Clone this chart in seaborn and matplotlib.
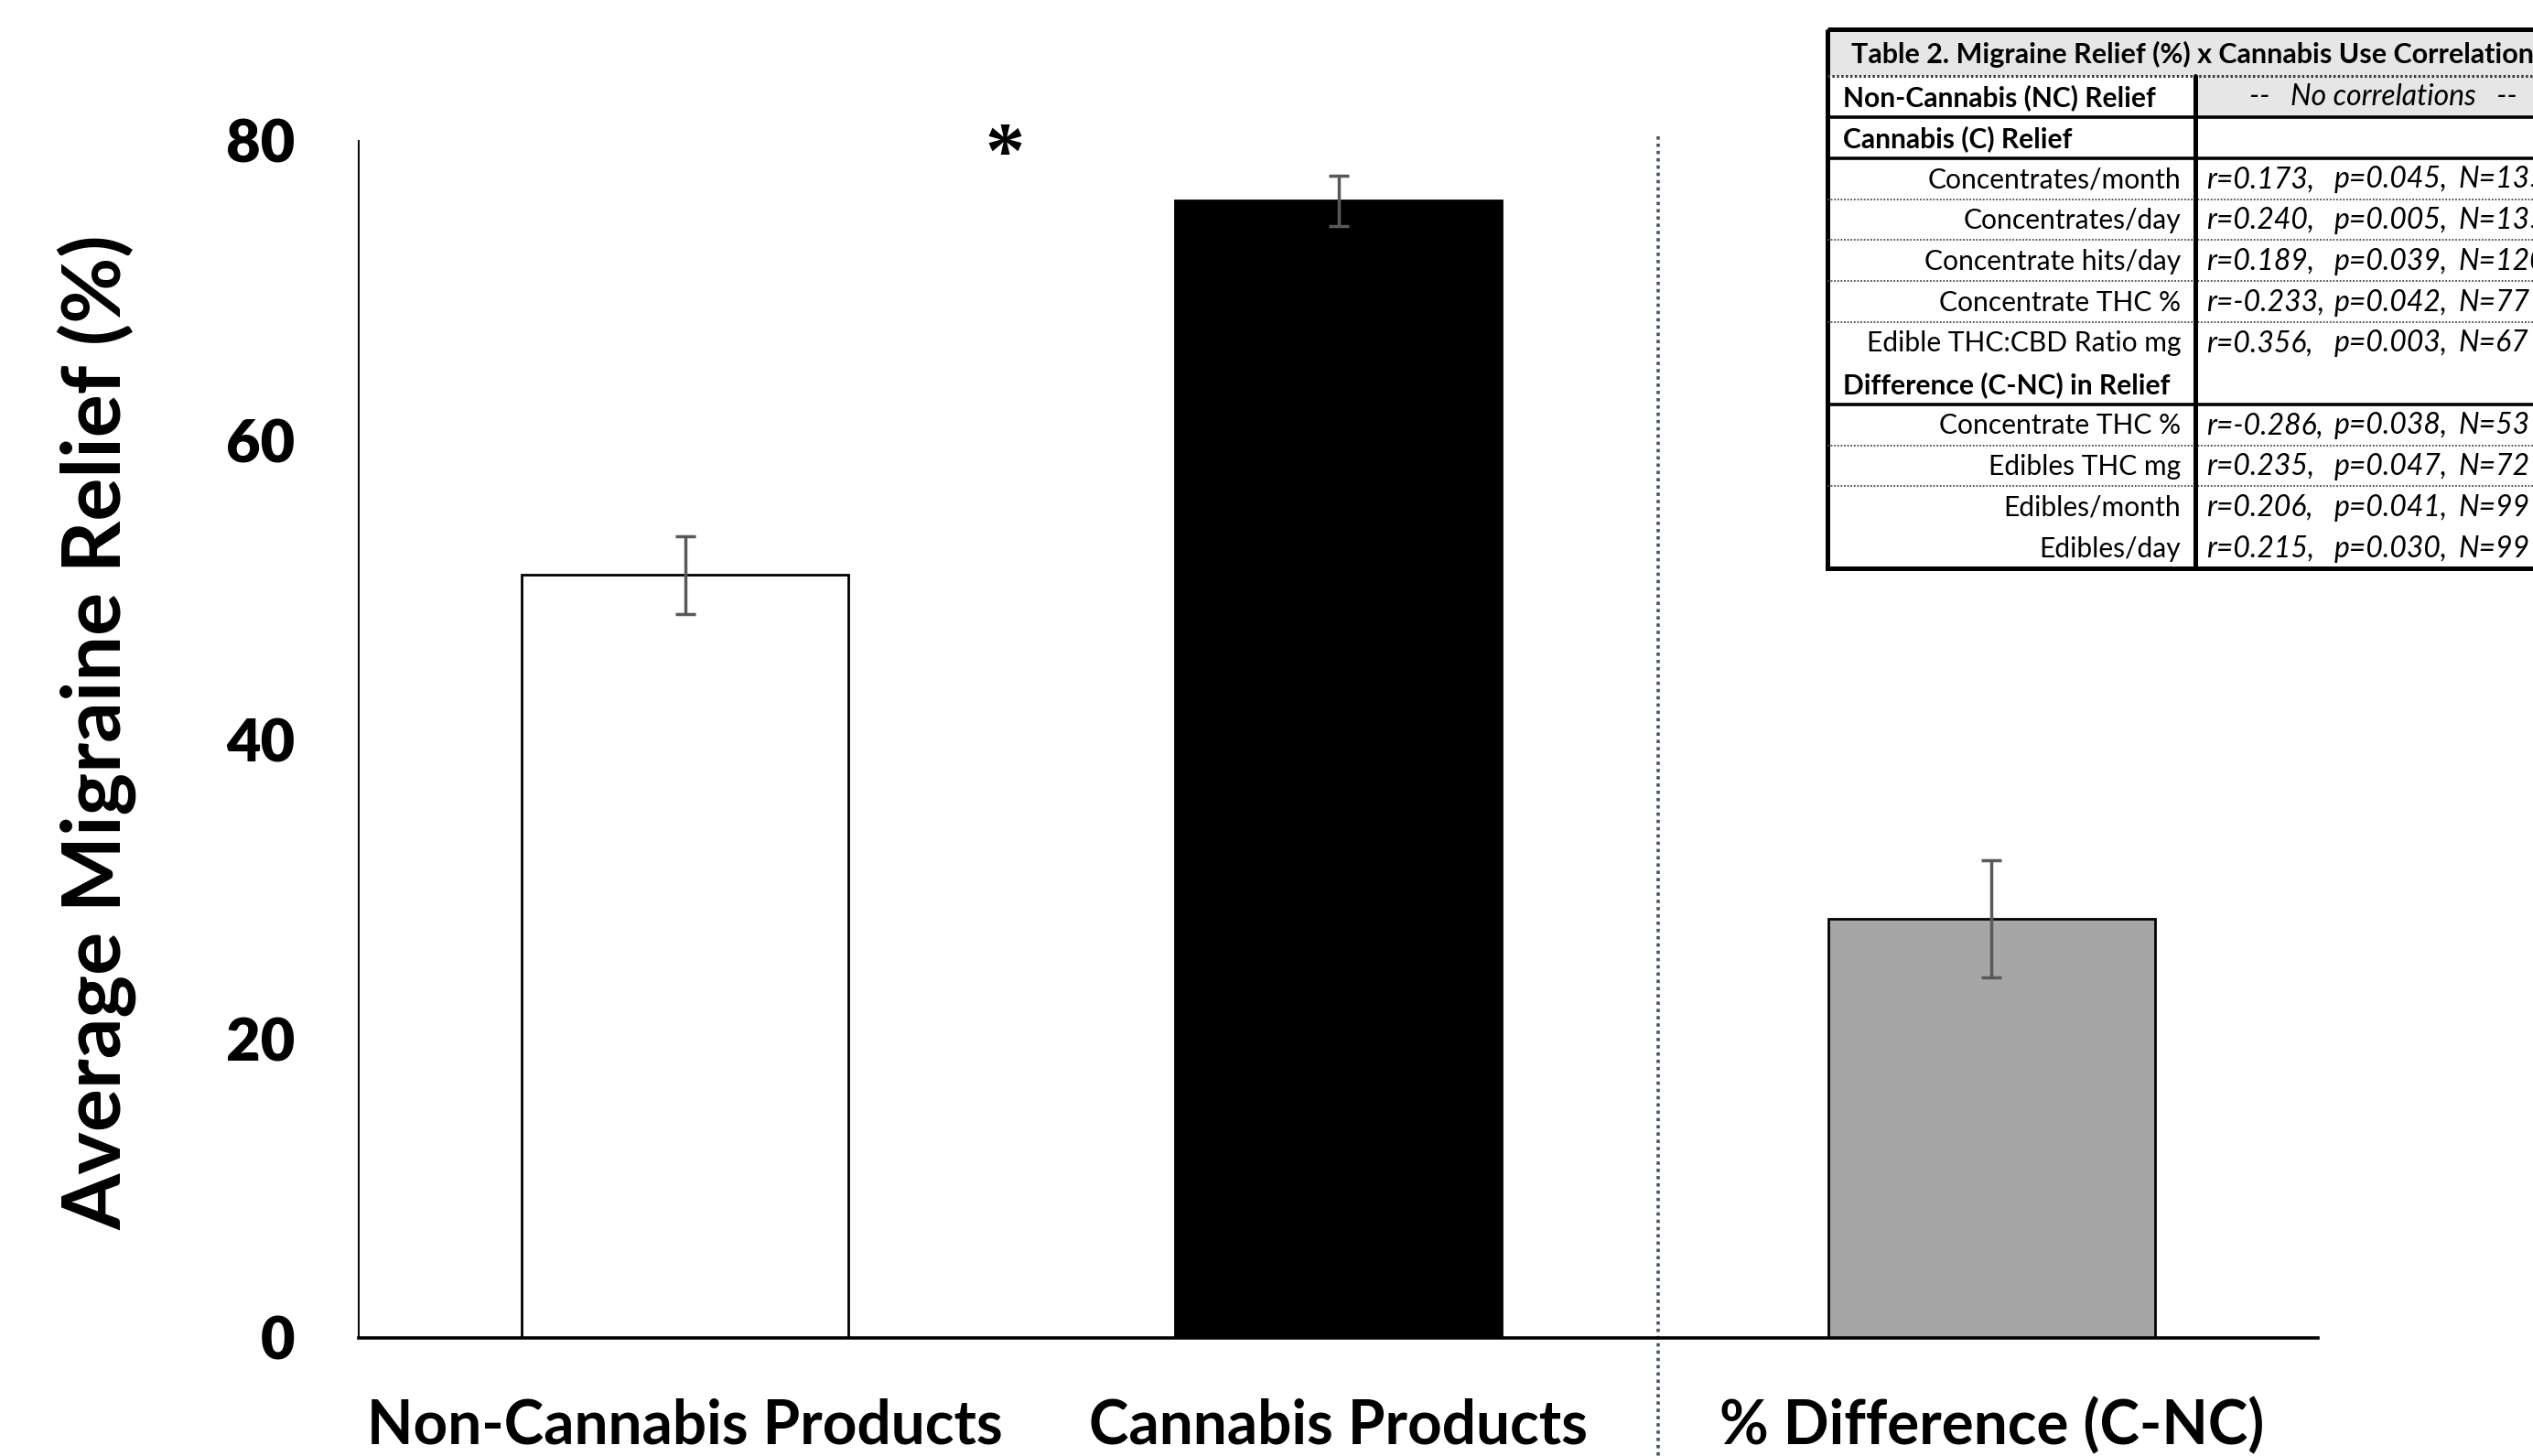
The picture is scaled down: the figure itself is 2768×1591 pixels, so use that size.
import matplotlib
matplotlib.use("Agg")
import matplotlib.pyplot as plt
from matplotlib.patches import Rectangle
import seaborn as sns
import pandas as pd

# ---- chart data ----
categories = ["Non-Cannabis Products", "Cannabis Products", "% Difference (C-NC)"]
relief_mean = [51.0, 76.0, 28.0]
relief_err = [2.6, 1.7, 3.9]
bar_colors = ["#ffffff", "#000000", "#a6a6a6"]
y_ticks = [0, 20, 40, 60, 80]
y_label = "Average Migraine Relief (%)"

# ---- correlation table data ----
table_title = "Table 2. Migraine Relief (%) x Cannabis Use Correlations"
row_labels = [
    "Non-Cannabis (NC) Relief",
    "Cannabis (C) Relief",
    "Concentrates/month",
    "Concentrates/day",
    "Concentrate hits/day",
    "Concentrate THC %",
    "Edible THC:CBD Ratio mg",
    "Difference (C-NC) in Relief",
    "Concentrate THC %",
    "Edibles THC mg",
    "Edibles/month",
    "Edibles/day",
]
row_r = ["", "", "0.173", "0.240", "0.189", "-0.233", "0.356", "", "-0.286", "0.235", "0.206", "0.215"]
row_p = ["", "", "0.045", "0.005", "0.039", "0.042", "0.003", "", "0.038", "0.047", "0.041", "0.030"]
row_n = ["", "", "135", "135", "120", "77", "67", "", "53", "72", "99", "99"]
no_corr_text = "--   No correlations   --"
row_is_header = [True, True, False, False, False, False, False, True, False, False, False, False]
row_rule = ["solid", "solid", "dotted", "dotted", "dotted", "dotted", "none",
            "solid", "dotted", "dotted", "none", "none"]

sns.set_theme(style="white")
plt.rcParams["font.family"] = ["Lato", "DejaVu Sans"]
plt.rcParams["text.color"] = "black"
plt.rcParams["xtick.color"] = "black"
plt.rcParams["ytick.color"] = "black"

W, H = 2768, 1591
fig = plt.figure(figsize=(W / 100, H / 100), dpi=100)
renderer = fig.canvas.get_renderer()


def rect_px(x0, y0, x1, y1):
    return [x0 / W, 1 - y1 / H, (x1 - x0) / W, (y1 - y0) / H]


def fitted_size(s, target_px, **props):
    t = fig.text(0, 0, s, fontsize=20, **props)
    w = t.get_window_extent(renderer).width
    t.remove()
    return 20 * target_px / w


# ---- bar chart ----
ax = fig.add_axes(rect_px(392, 154, 2533, 1462))
df = pd.DataFrame({"category": categories, "relief": relief_mean})
sns.barplot(data=df, x="category", y="relief", hue="category", palette=bar_colors,
            legend=False, width=0.5, edgecolor="black", linewidth=2,
            saturation=1, ax=ax, errorbar=None)
ax.errorbar(range(len(categories)), relief_mean, yerr=relief_err, fmt="none",
            ecolor="#595959", elinewidth=2.5, capsize=8, capthick=2.5, zorder=5)

ax.set_xlim(-0.5, 2.5)
ax.set_ylim(0, 80)
ax.set_yticks(y_ticks)
ax.set_xlabel("")
ax.set_ylabel("")
for side in ("top", "right"):
    ax.spines[side].set_visible(False)
ax.spines["left"].set_linewidth(1.4)
ax.spines["left"].set_color("black")
ax.spines["bottom"].set_linewidth(2.6)
ax.spines["bottom"].set_color("black")

ytick_size = fitted_size("80", 75, family="Lato", weight="heavy")
xtick_size = fitted_size(categories[0], 695, family="Lato", weight="bold")
ax.tick_params(axis="y", length=0, pad=50, labelsize=ytick_size, colors="black")
ax.tick_params(axis="x", length=0, pad=47, labelsize=xtick_size, colors="black")
for lab in ax.get_yticklabels():
    lab.set_family("Lato")
    lab.set_fontweight("heavy")
    lab.set_color("black")
for lab in ax.get_xticklabels():
    lab.set_family("Lato")
    lab.set_fontweight("bold")
    lab.set_color("black")

ylab_size = fitted_size(y_label, 1089, family="Lato", weight="bold")
fig.text(106 / W, 1 - 800 / H, y_label, rotation=90, ha="center", va="center",
         fontsize=ylab_size, fontweight="bold", family="Lato", color="black")

# significance marker and group separator
ax.text(0.489, 78.85, "*", ha="center", va="center", fontsize=62,
        family="Liberation Serif", fontweight="bold", clip_on=False)
ax.plot([1.49, 1.49], [80.3, -16], color="#44546a", lw=2.6,
        linestyle=(0, (1, 1.2)), clip_on=False, zorder=1)

# ---- correlation table ----
tx0, ty0, tx1, ty1 = 1997, 32, 2809, 621
col_x = 2399
title_h = 51
tax = fig.add_axes(rect_px(tx0, ty0, tx1, ty1))
tax.set_xlim(tx0, tx1)
tax.set_ylim(ty1, ty0)
tax.axis("off")

rh = (ty1 - ty0 - title_h) / len(row_labels)
shade = "#e7e6e6"
tax.add_patch(Rectangle((tx0, ty0), tx1 - tx0, title_h, fc=shade, ec="none"))
tax.add_patch(Rectangle((col_x, ty0 + title_h), tx1 - col_x, rh, fc=shade, ec="none"))

title_size = fitted_size(table_title, 760, family="Lato", weight="bold")
head_size = fitted_size(row_labels[0], 342, family="Lato", weight="bold")
item_size = fitted_size(row_labels[2], 277, family="Lato")
stat_size = fitted_size("r=0.173,", 118, family="Lato", style="italic")

tax.text((tx0 + tx1) / 2, ty0 + title_h / 2 + 2, table_title, ha="center", va="center",
         fontsize=title_size, fontweight="bold", family="Lato")
tax.plot([tx0, tx1], [ty0 + title_h] * 2, color="#3a3a3a", lw=2.2,
         linestyle=(0, (0.8, 0.8)))

stat_cols = (2411, 2551, 2686)
for i, lab in enumerate(row_labels):
    top = ty0 + title_h + i * rh
    yc = top + rh / 2 + 1
    if row_is_header[i]:
        tax.text(2014, yc, lab, ha="left", va="center", fontsize=head_size,
                 fontweight="bold", family="Lato")
    else:
        tax.text(2383, yc, lab, ha="right", va="center", fontsize=item_size,
                 family="Lato")
    if i == 0:
        tax.text((col_x + tx1) / 2, yc, no_corr_text, ha="center", va="center",
                 fontsize=stat_size, style="italic", family="Lato")
    elif row_r[i]:
        fields = (f"r={row_r[i]},", f"p={row_p[i]},", f"N={row_n[i]}")
        for xf, s in zip(stat_cols, fields):
            tax.text(xf, yc, s, ha="left", va="center", fontsize=stat_size,
                     style="italic", family="Lato")
    yb = top + rh
    if row_rule[i] == "solid":
        tax.plot([tx0, tx1], [yb, yb], color="black", lw=2.6)
    elif row_rule[i] == "dotted":
        tax.plot([tx0, tx1], [yb, yb], color="#4a4a4a", lw=1.3,
                 linestyle=(0, (1, 1)))

tax.plot([col_x, col_x], [ty0 + title_h, ty1], color="black", lw=3.6)
tax.add_patch(Rectangle((tx0, ty0), tx1 - tx0, ty1 - ty0, fill=False, ec="black",
                        lw=3.6, clip_on=False))

fig.savefig("out.png", dpi=100)
